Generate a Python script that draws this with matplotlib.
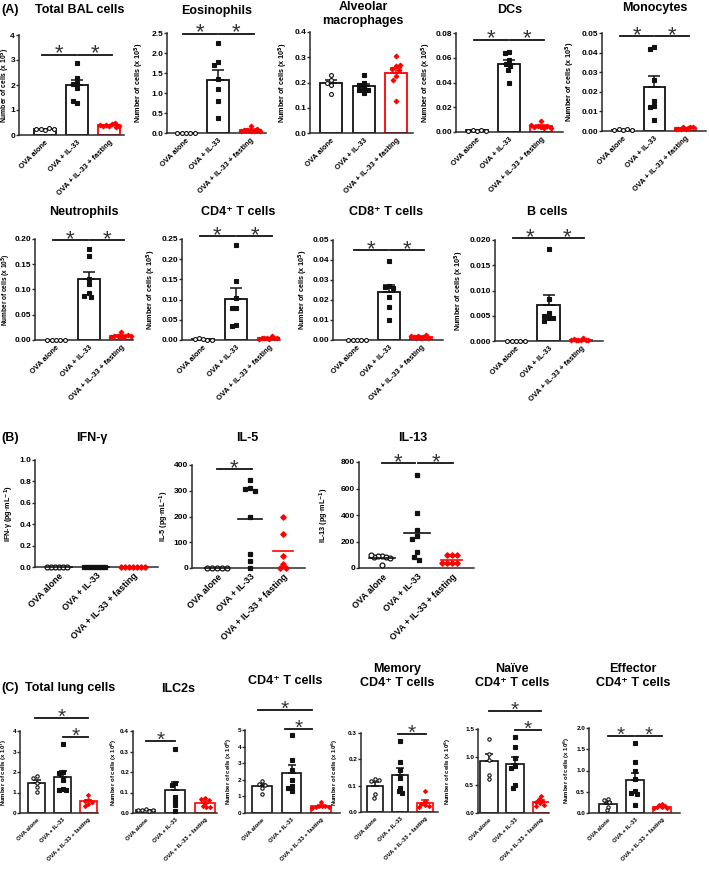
import numpy as np
import matplotlib
matplotlib.use("Agg")
import matplotlib.pyplot as plt

plt.rcParams['font.family'] = ['Liberation Sans', 'DejaVu Sans']
plt.rcParams['font.weight'] = 'bold'

# ---------------- data ----------------
groups = ["OVA alone", "OVA + IL-33", "OVA + IL-33 + fasting"]

# Panel A: BAL cells (x 10^5)
bal_total_alone = [0.22, 0.25, 0.27, 0.26, 0.25]
bal_total_il33 = [2.9, 2.3, 2.1, 2.05, 1.9, 1.3, 1.38]
bal_total_fast = [0.35, 0.42, 0.45, 0.38, 0.5, 0.4, 0.33, 0.37]
eos_alone = [0, 0, 0, 0, 0]
eos_il33 = [2.25, 1.78, 1.7, 1.35, 1.1, 0.8, 0.38]
eos_fast = [0.05, 0.07, 0.18, 0.06, 0.08, 0.09, 0.05, 0.06]
am_alone = [0.23, 0.21, 0.2, 0.19, 0.155]
am_il33 = [0.23, 0.2, 0.19, 0.18, 0.17, 0.17, 0.16]
am_fast = [0.305, 0.265, 0.255, 0.25, 0.27, 0.225, 0.21, 0.125]
dc_alone = [0.001, 0.002, 0.002, 0.001, 0.0005]
dc_il33 = [0.065, 0.064, 0.058, 0.055, 0.053, 0.05, 0.04]
dc_fast = [0.009, 0.004, 0.005, 0.003, 0.004, 0.005, 0.006, 0.003]
mono_alone = [0.0005, 0.001, 0.0008, 0.0006, 0.0003]
mono_il33 = [0.043, 0.042, 0.026, 0.0155, 0.013, 0.012, 0.0055]
mono_fast = [0.001, 0.002, 0.0015, 0.001, 0.002, 0.0012, 0.0018, 0.001]
neut_alone = [0, 0, 0, 0, 0]
neut_il33 = [0.18, 0.167, 0.12, 0.11, 0.093, 0.087, 0.085]
neut_fast = [0.005, 0.008, 0.015, 0.006, 0.007, 0.009, 0.006, 0.008]
cd4_alone = [0.002, 0.004, 0.001, 0.0015, 0.001]
cd4_il33 = [0.235, 0.147, 0.105, 0.08, 0.079, 0.036, 0.034]
cd4_fast = [0.003, 0.005, 0.01, 0.004, 0.005, 0.006, 0.004, 0.003]
cd8_alone = [0, 0, 0, 0, 0]
cd8_il33 = [0.0395, 0.027, 0.0265, 0.026, 0.0215, 0.0165, 0.01]
cd8_fast = [0.001, 0.002, 0.0015, 0.001, 0.0025, 0.0015, 0.001, 0.002]
bcell_alone = [0, 0, 0, 0, 0]
bcell_il33 = [0.0183, 0.0083, 0.0055, 0.005, 0.0045, 0.004, 0.0045]
bcell_fast = [0.0001, 0.0002, 0.0006, 0.0001, 0.0002, 0.0003, 0.0001, 0.0002]

# Panel B: cytokines (pg/mL)
ifng_alone = [0, 0, 0, 0, 0, 0]
ifng_il33 = [0, 0, 0, 0, 0, 0, 0, 0]
ifng_fast = [0, 0, 0, 0, 0, 0, 0]
il5_alone = [0, 0, 0, 0, 0]
il5_il33 = [340, 310, 305, 300, 198, 55, 28, 0]
il5_fast = [197, 132, 45, 17, 0, 0]
il13_alone = [92, 88, 85, 80, 78, 95, 22]
il13_il33 = [702, 418, 287, 241, 219, 118, 86, 58]
il13_fast = [95, 95, 95, 35, 35, 35, 35]

# Panel C: lung cells
lung_total_alone = [1.82, 1.72, 1.45, 1.25, 1.02]
lung_total_il33 = [3.38, 2.0, 1.95, 1.6, 1.15, 1.1, 1.12]
lung_total_fast = [0.9, 0.65, 0.6, 0.52, 0.42, 0.35]
ilc2_alone = [0.02, 0.015, 0.012, 0.013, 0.015]
ilc2_il33 = [0.31, 0.145, 0.135, 0.08, 0.06, 0.04, 0.01]
ilc2_fast = [0.075, 0.07, 0.065, 0.05, 0.035, 0.03, 0.03]
lcd4_alone = [1.9, 1.75, 1.7, 1.5, 1.15]
lcd4_il33 = [4.7, 3.2, 2.6, 2.0, 1.6, 1.5, 1.3]
lcd4_fast = [0.65, 0.45, 0.42, 0.4, 0.38, 0.36, 0.3]
mem_alone = [0.127, 0.117, 0.12, 0.068, 0.055]
mem_il33 = [0.27, 0.19, 0.16, 0.13, 0.091, 0.078, 0.072]
mem_fast = [0.08, 0.04, 0.03, 0.025, 0.022, 0.018]
naive_alone = [1.33, 1.05, 0.95, 0.68, 0.6]
naive_il33 = [1.35, 1.18, 0.98, 0.84, 0.8, 0.5, 0.45]
naive_fast = [0.31, 0.25, 0.22, 0.2, 0.17, 0.14, 0.13]
eff_alone = [0.33, 0.3, 0.25, 0.15, 0.07]
eff_il33 = [1.64, 1.2, 1.0, 0.8, 0.52, 0.48, 0.45, 0.18]
eff_fast = [0.22, 0.18, 0.16, 0.14, 0.13, 0.12, 0.11]

# ---------------- style ----------------
W, H = 709, 869
BLK = '#111111'
RED = '#ff0000'
SPINE = '#2a2a2a'
fig = plt.figure(figsize=(W / 100, H / 100), dpi=100)


def make_ax(l, t, r, b):
    ax = fig.add_axes([l / W, 1 - b / H, (r - l) / W, (b - t) / H])
    ax._box = (l, t, r, b)
    return ax


def swarm_x(ax, xc, vals, step_px, maxhalf):
    tr = ax.transData
    vals = np.asarray(vals, float)
    pix = tr.transform(np.column_stack([np.full(len(vals), xc), vals]))
    x0 = pix[0, 0]
    cands = [0.0]
    for k in range(1, 80):
        cands += [-k * step_px / 3, k * step_px / 3]
    placed, offs = [], []
    for px, py in pix:
        for c in cands:
            if all((c - ox) ** 2 + (py - oy) ** 2 >= step_px ** 2 - 1e-6 for ox, oy in placed):
                break
        placed.append((c, py))
        offs.append(c)
    offs = np.array(offs)
    half_px = tr.transform([(xc + maxhalf, 0)])[0, 0] - x0
    m = np.abs(offs).max()
    if m > half_px:
        offs = offs * half_px / m
    return tr.inverted().transform(np.column_stack([x0 + offs, pix[:, 1]]))[:, 0]


MARK = [dict(marker='o', mfc='white', mec=BLK, color=BLK),
        dict(marker='s', mfc=BLK, mec=BLK, color=BLK),
        dict(marker='D', mfc=RED, mec=RED, color=RED)]


def setup(ax, xlim, ymax, ystep, fmt, ylabel, fs_yt, fs_xt, fs_yl, ylx):
    ax.set_xlim(*xlim)
    ax.set_ylim(0, ymax)
    for s in ['top', 'right']:
        ax.spines[s].set_visible(False)
    for s in ['left', 'bottom']:
        ax.spines[s].set_linewidth(1.1)
        ax.spines[s].set_color(SPINE)
    ticks = np.arange(0, ymax + ystep / 2, ystep)
    ax.set_yticks(ticks)
    ax.set_yticklabels([fmt.format(t) for t in ticks], fontsize=fs_yt, fontweight='bold')
    ax.tick_params(axis='y', length=2.0, width=1.0, pad=0.8, color=SPINE)
    ax.set_xticks([0, 1, 2])
    ax.set_xticklabels(groups, rotation=45, ha='right', rotation_mode='anchor',
                       fontsize=fs_xt, fontweight='bold')
    ax.tick_params(axis='x', length=0, pad=3)
    ax.set_ylabel(ylabel, fontsize=fs_yl, fontweight='bold')
    l, t, r, b = ax._box
    # ylabel: right edge of the (rotated) text at the given pixel x
    ax.yaxis.set_label_coords((ylx - l) / (r - l), 0.5)


def sig(ax, lines, starsize=16):
    for x1, x2, y in lines:
        ax.plot([x1, x2], [y, y], color=BLK, lw=1.3, clip_on=False, zorder=5)
        ax.annotate('*', ((x1 + x2) / 2, y), xytext=(0, -3.5), textcoords='offset points',
                    ha='center', va='baseline', fontsize=starsize, fontweight='normal',
                    color='#333333', annotation_clip=False)


def bar_panel(box, xlim, data3, ymax, ystep, fmt, ylabel, lines, ylx, fs_yt=6, fs_xt=5.4,
              fs_yl=5.2, ms=2.8, step=4.3, barw=0.68, cap=4, starsize=16, blw=1.3):
    ax = make_ax(*box)
    setup(ax, xlim, ymax, ystep, fmt, ylabel, fs_yt, fs_xt, fs_yl, ylx)
    for i, vals in enumerate(data3):
        v = np.asarray(vals, float)
        m = v.mean()
        sem = v.std(ddof=1) / np.sqrt(len(v))
        col = BLK if i < 2 else RED
        ax.bar(i, m, width=barw, facecolor='white', edgecolor=col, lw=blw, zorder=2)
        if sem > 0:
            ax.errorbar(i, m, yerr=[[0], [sem]], color=col, lw=1.1, capsize=cap,
                        capthick=1.1, zorder=3)
        xs = swarm_x(ax, i, v, step, barw * 0.45)
        st = MARK[i]
        ax.plot(xs, v, ls='none', marker=st['marker'], mfc=st['mfc'], mec=st['mec'],
                ms=ms if i != 2 else ms * 0.85, mew=0.8, zorder=4, clip_on=False)
    sig(ax, lines, starsize)
    return ax


def dot_panel(box, xlim, data3, ymax, ystep, fmt, ylabel, lines, ylx, ms=3.5, step=5.0):
    ax = make_ax(*box)
    setup(ax, xlim, ymax, ystep, fmt, ylabel, 6, 6.5, 5.2, ylx)
    for i, vals in enumerate(data3):
        v = np.asarray(vals, float)
        m = v.mean()
        st = MARK[i]
        xs = swarm_x(ax, i, v, step, 0.33)
        ax.plot(xs, v, ls='none', marker=st['marker'], mfc=st['mfc'], mec=st['mec'],
                ms=ms if i != 2 else ms * 0.8, mew=0.9, zorder=4, clip_on=False)
        hw = 0.36 if i < 2 else 0.3
        ax.plot([i - hw, i + hw], [m, m], color=st['color'], lw=1.2, zorder=5, clip_on=False)
    sig(ax, lines, 16)
    return ax


def title(x, y, s, size=9):
    fig.text(x / W, 1 - y / H, s, ha='center', va='center', fontsize=size, fontweight='bold')


YL5 = "Number of cells (x 10$^5$)"
YL6 = "Number of cells (x 10$^6$)"
YL7 = "Number of cells (x 10$^7$)"

# ---------------- Panel A ----------------
bar_panel((19, 35, 124, 135), (-0.81, 2.47), [bal_total_alone, bal_total_il33, bal_total_fast],
          4, 1, "{:.0f}", YL5, [(-0.1, 0.97, 3.22), (1.03, 2.1, 3.22)], 12, fs_yl=4.9)
bar_panel((167, 33, 266, 133), (-0.59, 2.48), [eos_alone, eos_il33, eos_fast],
          2.5, 0.5, "{:.1f}", YL5, [(-0.1, 0.97, 2.48), (1.03, 2.1, 2.48)], 146)
bar_panel((310, 32, 413, 133), (-0.65, 2.52), [am_alone, am_il33, am_fast],
          0.4, 0.1, "{:.1f}", YL5, [], 290)
bar_panel((456, 33, 563, 132), (-0.66, 2.69), [dc_alone, dc_il33, dc_fast],
          0.08, 0.02, "{:.2f}", YL5, [(-0.1, 0.97, 0.0745), (1.03, 2.1, 0.0745)], 433)
bar_panel((602, 33, 706, 131), (-0.67, 2.65), [mono_alone, mono_il33, mono_fast],
          0.05, 0.01, "{:.2f}", YL5, [(-0.1, 0.97, 0.0485), (1.03, 2.1, 0.0485)], 577)

bar_panel((35, 239, 133, 340), (-0.65, 2.37), [neut_alone, neut_il33, neut_fast],
          0.20, 0.05, "{:.2f}", YL5, [(-0.1, 0.97, 0.198), (1.03, 2.1, 0.198)], 12.8, fs_yl=4.7)
bar_panel((182, 239, 280, 340), (-0.64, 2.33), [cd4_alone, cd4_il33, cd4_fast],
          0.25, 0.05, "{:.2f}", YL5, [(-0.1, 0.97, 0.257), (1.03, 2.1, 0.257)], 158)
bar_panel((333, 240, 443, 340), (-0.75, 2.69), [cd8_alone, cd8_il33, cd8_fast],
          0.05, 0.01, "{:.2f}", YL5, [(-0.1, 0.97, 0.045), (1.03, 2.1, 0.045)], 310)
bar_panel((495, 240, 603, 341), (-0.65, 2.68), [bcell_alone, bcell_il33, bcell_fast],
          0.020, 0.005, "{:.3f}", YL5, [(-0.1, 0.97, 0.0203), (1.03, 2.1, 0.0203)], 466)

fig.text(1 / W, 1 - 10 / H, "(A)", ha='left', va='center', fontsize=9, fontweight='bold')
title(80, 10, "Total BAL cells")
title(217, 11, "Eosinophils")
title(363, 14, "Alveolar\nmacrophages")
title(510, 10, "DCs")
title(655, 8, "Monocytes")
title(84, 212, "Neutrophils")
title(238, 212, "CD4⁺ T cells")
title(386, 212, "CD8⁺ T cells")
title(547, 212, "B cells")

# ---------------- Panel B ----------------
dot_panel((35, 460, 158, 567), (-0.65, 2.68), [ifng_alone, ifng_il33, ifng_fast],
          1.0, 0.2, "{:.1f}", "IFN-γ (pg·mL$^{-1}$)", [], 16, step=4.0)
dot_panel((192, 465, 305, 568), (-0.76, 2.67), [il5_alone, il5_il33, il5_fast],
          400, 100, "{:.0f}", "IL-5 (pg·mL$^{-1}$)", [(0.0, 1.05, 385)], 171)
dot_panel((359, 462, 474, 568), (-0.66, 2.63), [il13_alone, il13_il33, il13_fast],
          800, 200, "{:.0f}", "IL-13 (pg·mL$^{-1}$)", [(0.0, 0.94, 790), (1.03, 2.03, 790)], 331)

fig.text(1 / W, 1 - 438 / H, "(B)", ha='left', va='center', fontsize=9, fontweight='bold')
title(92, 438, "IFN-γ")
title(247, 438, "IL-5")
title(413, 438, "IL-13")

# ---------------- Panel C ----------------
ckw = dict(fs_yt=4.6, fs_xt=4.2, fs_yl=4.3, ms=2.4, step=3.6, barw=0.66, cap=3, blw=1.2,
           starsize=15)
bar_panel((20, 731, 98, 813), (-0.66, 2.37), [lung_total_alone, lung_total_il33, lung_total_fast],
          4, 1, "{:.0f}", YL7, [(-0.08, 2.0, 4.62), (1.0, 2.0, 3.69)], 9.5, **ckw)
bar_panel((133, 731, 217, 813), (-0.42, 2.4), [ilc2_alone, ilc2_il33, ilc2_fast],
          0.4, 0.1, "{:.1f}", YL6, [(0.0, 1.0, 0.349)], 119, **ckw)
bar_panel((245, 730, 340, 813), (-0.58, 2.64), [lcd4_alone, lcd4_il33, lcd4_fast],
          5, 1, "{:.0f}", YL6, [(-0.13, 1.69, 6.19), (0.78, 1.69, 5.08)], 234, **ckw)
bar_panel((361, 733, 438, 812), (-0.56, 2.52), [mem_alone, mem_il33, mem_fast],
          0.3, 0.1, "{:.1f}", YL6, [(0.92, 2.04, 0.296)], 340, **ckw)
bar_panel((478, 729, 549, 813), (-0.42, 2.3), [naive_alone, naive_il33, naive_fast],
          1.5, 0.5, "{:.1f}", YL6, [(0.0, 2.0, 1.82), (1.0, 2.0, 1.49)], 453, **ckw)
bar_panel((589, 728, 680, 813), (-0.7, 2.67), [eff_alone, eff_il33, eff_fast],
          2.0, 0.5, "{:.1f}", YL6, [(0.0, 0.96, 1.82), (1.04, 2.0, 1.82)], 572, **ckw)

fig.text(1 / W, 1 - 688 / H, "(C)", ha='left', va='center', fontsize=9, fontweight='bold')
title(70, 688, "Total lung cells")
title(178, 689, "ILC2s")
title(285, 681, "CD4⁺ T cells")
title(397, 676, "Memory\nCD4⁺ T cells")
title(512, 676, "Naïve\nCD4⁺ T cells")
title(633, 676, "Effector\nCD4⁺ T cells")

fig.savefig("out.png", dpi=100)
